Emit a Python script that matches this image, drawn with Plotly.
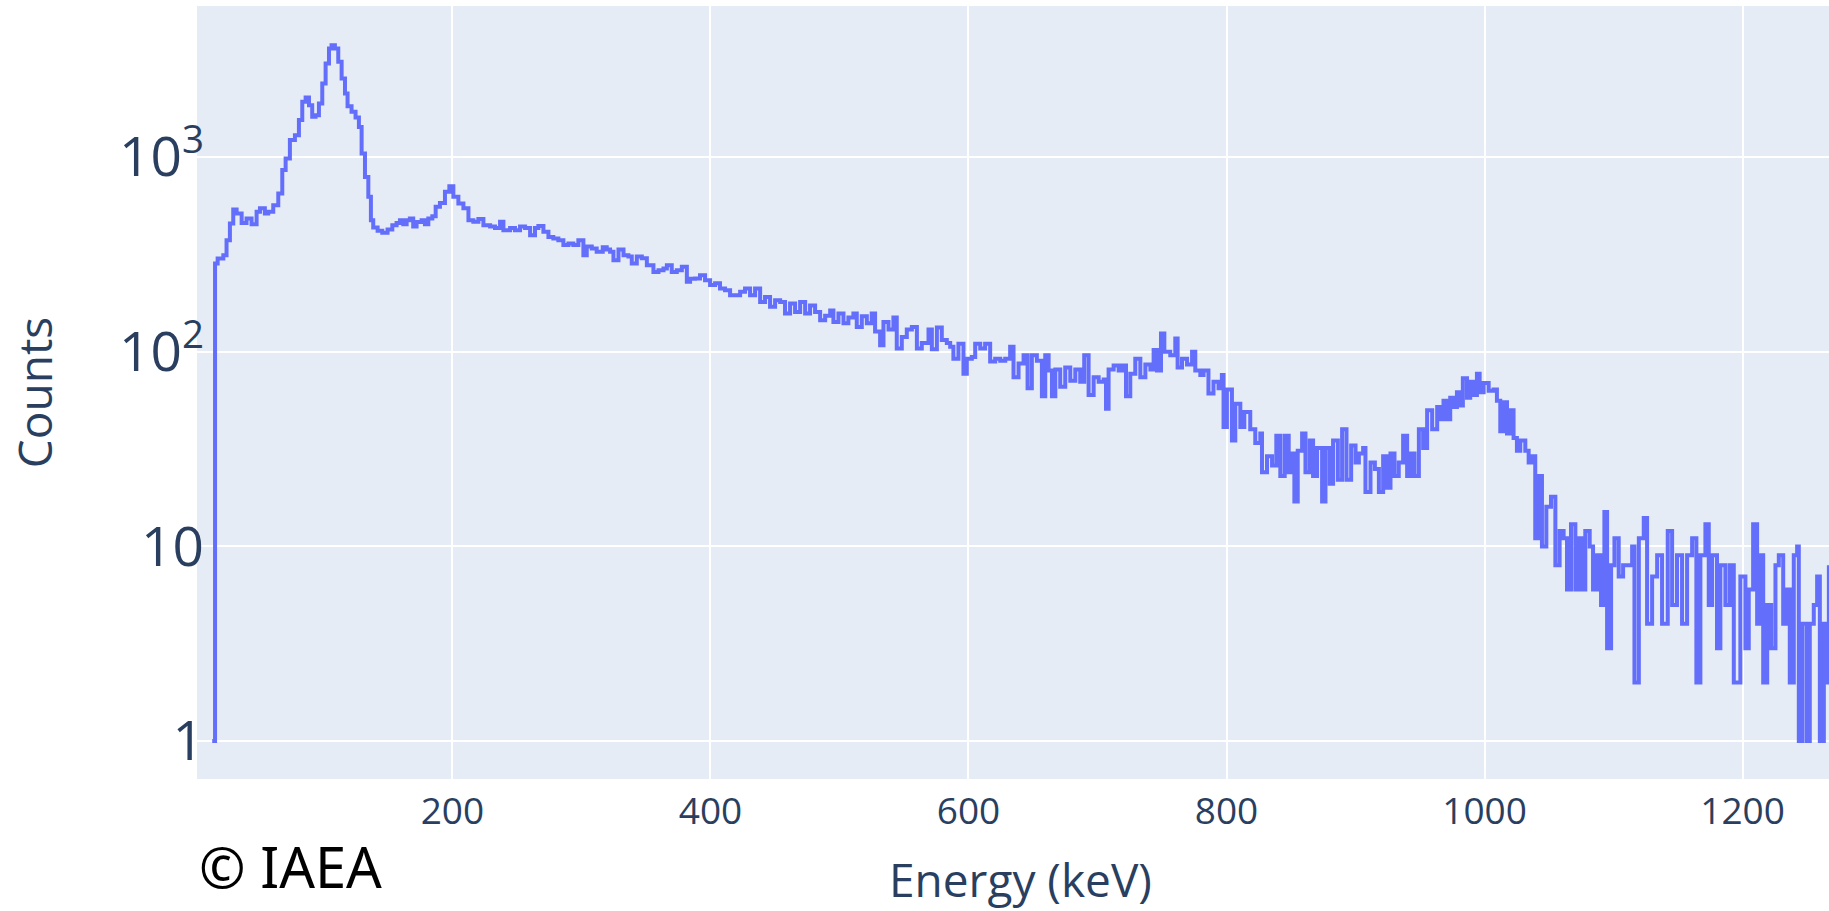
import plotly.graph_objects as go

# Energy (keV) and counts
energy_kev = [
    13.8, 16.0, 18.0, 22.4, 24.9, 27.5, 30.1, 32.7, 36.6, 40.4, 44.3, 48.2, 50.8, 54.6, 57.2,
    61.1, 65.0, 68.1, 70.7, 74.0, 77.9, 81.0, 83.6, 86.2, 88.8, 91.3, 93.9, 96.5, 99.1, 101.7,
    104.3, 106.3, 108.9, 111.5, 114.1, 116.7, 118.7, 121.8, 124.9, 127.5, 129.6, 132.2, 134.8,
    136.8, 138.6, 142.0, 145.6, 149.7, 153.4, 156.7, 159.3, 161.9, 164.5, 167.0, 169.6, 172.2,
    176.1, 178.7, 181.3, 184.4, 187.0, 190.3, 194.2, 197.6, 200.7,
    204.6, 208.5, 212.4, 216.2, 220.1, 224.0, 229.2, 233.0, 236.9, 239.5, 244.7, 248.5, 252.4,
    256.3, 260.2, 264.0, 266.6, 270.5, 274.4, 278.2, 282.1, 286.0, 289.9, 293.7, 297.6, 301.5,
    304.1, 308.0, 311.8, 316.5, 319.6, 322.2, 324.8, 328.7, 332.6, 336.4, 339.0, 342.9, 346.8,
    350.7, 355.8, 359.7, 363.6, 366.2, 370.0, 373.9, 377.8, 381.7, 384.2,
    388.0, 391.9, 395.8, 399.7, 403.6, 407.4, 411.3, 415.2, 419.1, 423.0, 426.8, 430.7, 434.6,
    438.5, 442.3, 446.2, 450.1, 454.0, 457.8, 461.7, 465.6, 469.5, 473.4, 477.2, 481.1, 485.0,
    488.9, 492.8, 495.3, 499.2, 503.1, 506.9, 510.8, 513.4, 517.3, 521.2, 525.0, 527.6, 531.5,
    534.1, 538.0, 541.8, 544.4, 548.3, 552.2, 556.1, 560.0, 563.8, 569.0, 571.6, 575.5, 579.3,
    583.2, 585.8, 588.3, 592.2, 596.1, 598.7, 602.6, 605.2, 609.1, 612.9, 616.8, 620.7, 624.6,
    628.5, 632.3, 634.9, 638.8, 642.7, 645.8, 649.1, 653.0, 656.9, 659.5, 662.1, 664.7, 667.3,
    671.1, 675.0, 678.9, 682.8, 686.6, 689.7, 693.1, 697.0, 700.9, 704.8, 706.6, 708.6, 712.5,
    716.4, 719.0, 722.1, 725.4, 729.3, 733.2, 737.1, 741.0, 743.5, 746.1, 749.2, 751.8, 756.4,
    760.3, 762.1, 765.5, 769.4, 773.3, 775.8, 779.7, 782.2, 786.0, 789.9, 793.8, 796.4, 797.7,
    800.3, 804.2, 806.8, 810.7, 813.8, 818.4, 822.3, 826.2, 827.5, 831.4, 835.3, 838.6, 841.7,
    845.1, 848.2, 850.8, 852.6, 855.2, 858.6, 861.2, 864.5, 867.1, 870.2, 874.1, 876.7, 880.0,
    882.6, 886.3, 889.6, 893.0, 896.6, 900.0, 902.6, 905.9, 907.7, 911.6, 915.0, 918.1, 921.4,
    924.5, 927.1, 930.2, 933.5, 936.9, 940.0, 942.6, 945.7, 949.1, 952.4, 955.5, 959.4, 963.3,
    965.9, 968.2, 970.8, 973.4, 976.0, 978.6, 981.2, 983.2, 986.4, 988.9, 991.5, 994.1, 996.2,
    999.3, 1003.2, 1007.0, 1009.6, 1012.2, 1015.3, 1017.4, 1020.0, 1022.5, 1025.1, 1027.7,
    1031.6, 1034.2, 1036.8, 1039.3, 1041.9, 1044.5, 1047.9, 1051.5, 1054.9, 1058.2, 1061.3,
    1063.9, 1067.0, 1070.4, 1073.0, 1075.5, 1078.1, 1081.5, 1084.1, 1087.2, 1090.3, 1092.9,
    1095.0, 1098.1, 1100.7, 1104.0, 1107.4, 1111.8, 1114.4, 1116.2, 1119.6, 1123.4, 1126.0,
    1129.9, 1133.8, 1137.6, 1142.0, 1145.4, 1149.2, 1153.1, 1157.0, 1160.9, 1164.2, 1167.3,
    1171.2, 1173.8, 1176.4, 1180.2, 1182.8, 1186.7, 1190.1, 1193.2, 1195.8, 1198.3, 1202.2,
    1204.8, 1208.2, 1211.3, 1214.4, 1216.0, 1219.1, 1222.2, 1225.5, 1228.1, 1231.5, 1234.6,
    1236.6, 1239.7, 1242.3, 1243.6, 1246.2, 1249.6, 1252.1, 1255.2, 1257.8, 1259.9, 1263.0,
    1265.1, 1266.9,
]

counts = [
    1, 284, 301, 313, 374, 456, 538, 513, 459, 484, 452, 523, 545, 513, 523,
    566, 650, 857, 984, 1222, 1295, 1548, 1922, 2024, 1848, 1609, 1640, 1885, 2388, 3026,
    3611, 3757, 3611, 3083, 2534, 2122, 1825, 1708, 1597, 1429, 1043, 791, 625,
    474, 435, 418, 408, 425, 447, 459, 474, 452, 474, 484, 440, 464,
    474, 452, 484, 497, 555, 580, 663, 709, 625,
    577, 545, 474, 465, 480, 447, 440, 432, 465, 421, 432, 421, 440,
    432, 397, 432, 443, 413, 389, 382, 374, 353, 360, 353, 374, 313,
    347, 339, 326, 344, 335, 326, 295, 335, 313, 308, 284, 308, 302,
    278, 257, 262, 268, 278, 257, 262, 273, 229, 237,
    238, 247, 233, 220, 225, 211, 207, 195, 195, 203, 211, 195, 211,
    180, 191, 170, 184, 180, 157, 177, 160, 180, 157, 173, 160, 145,
    153, 163, 142, 157, 140, 150, 157, 134, 152, 140, 157, 127, 108,
    142, 130, 150, 104, 119, 130, 134, 104, 111, 130, 103, 133, 115,
    111, 106, 92, 110, 77, 92, 94, 110, 104, 110, 89, 92, 90,
    92, 106, 74, 87, 96, 65, 96, 90, 59, 96, 80, 59, 81,
    66, 83, 71, 81, 70, 96, 60, 74, 70, 72, 51, 81, 85,
    80, 85, 59, 77, 92, 74, 86, 81, 102, 80, 124, 100, 96,
    117, 83, 92, 86, 100, 80, 76, 80, 61, 70, 65, 76, 41,
    64, 35, 54, 41, 49, 40, 34, 38, 24, 29, 26, 37, 23,
    37, 24, 30, 17, 31, 38, 24, 35, 23, 32, 17, 32, 21,
    35, 22, 40, 22, 33, 27, 30, 32, 19, 27, 25, 19, 29,
    20, 30, 23, 27, 37, 23, 30, 23, 40, 32, 50, 40, 52,
    45, 56, 45, 58, 52, 62, 53, 73, 58, 70, 60, 77, 62,
    69, 63, 64, 56, 39, 55, 38, 50, 36, 31, 35,
    31, 27, 29, 11, 23, 10, 16, 18, 8, 12, 11,
    6, 13, 6, 11, 6, 12, 10, 6, 9, 5, 15,
    3, 8, 11, 7, 8, 8, 10, 2, 11, 14, 4,
    7, 9, 4, 12, 5, 9, 4, 9, 11, 2, 9,
    13, 5, 9, 3, 8, 5, 8, 2, 2, 7, 3,
    6, 13, 4, 9, 2, 5, 3, 8, 9, 4, 6,
    2, 9, 10, 1, 4, 1, 4, 5, 7, 1, 4,
    2, 8,
]

x_ticks = [200, 400, 600, 800, 1000, 1200]
x_range = [2, 1267]
y_log_range = [-0.195, 3.776]

AXIS_COLOR = "#2a3f5f"

fig = go.Figure()
fig.add_trace(go.Scatter(
    x=energy_kev, y=counts, mode="lines",
    line=dict(color="#636efa", width=4, shape="hv"),
    showlegend=False,
))

fig.update_layout(
    width=1829, height=911,
    margin=dict(l=197, r=0, t=6, b=132),
    plot_bgcolor="#E5ECF6", paper_bgcolor="white",
    font=dict(family="Open Sans", color=AXIS_COLOR),
    showlegend=False,
    annotations=[
        dict(
            text="Energy (keV)", xref="paper", yref="paper",
            x=0.5049, y=-0.129, xanchor="center", yanchor="middle",
            showarrow=False,
            font=dict(family="Open Sans", size=46, color=AXIS_COLOR),
        ),
        dict(
            text="© IAEA", xref="paper", yref="paper",
            x=0.0, y=-0.1125, xanchor="left", yanchor="middle",
            showarrow=False,
            font=dict(family="Noto Sans", size=56, color="black"),
        ),
    ],
)

fig.update_xaxes(
    range=x_range, tickvals=x_ticks,
    showgrid=True, gridcolor="white", gridwidth=2,
    zeroline=False, showline=False, ticks="",
    ticklabelstandoff=7,
    tickfont=dict(size=37, color=AXIS_COLOR),
)
fig.update_yaxes(
    type="log", range=y_log_range, dtick=1, exponentformat="power",
    showgrid=True, gridcolor="white", gridwidth=2,
    zeroline=False, showline=False, ticks="",
    ticklabelstandoff=-8,
    tickfont=dict(size=44, color=AXIS_COLOR),
    title=dict(text="Counts", font=dict(size=46, color=AXIS_COLOR), standoff=51),
)

fig.write_html(
    "out.html",
    config={"displayModeBar": False},
    post_script="document.body.style.margin='0';",
)
